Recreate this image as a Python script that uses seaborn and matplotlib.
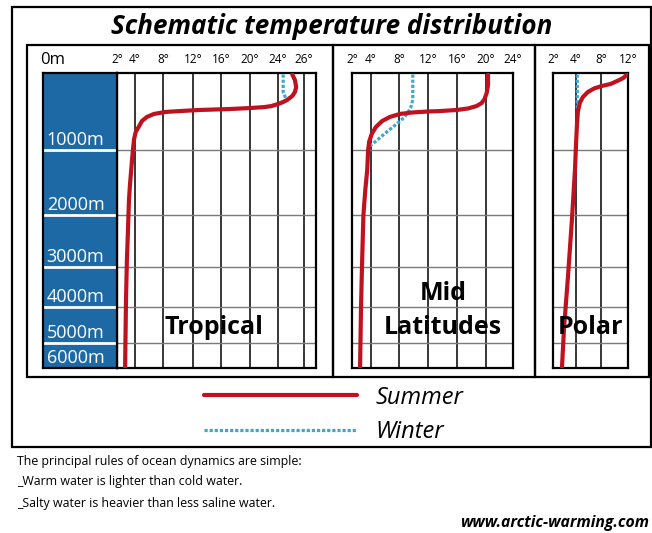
import numpy as np
import pandas as pd
import seaborn as sns
import matplotlib.pyplot as plt
from matplotlib.patches import Rectangle

depth_levels = [1000, 2000, 3000, 4000, 5000, 6000]

trop_ticks = [2, 4, 8, 12, 16, 20, 24, 26]
mid_ticks = [2, 4, 8, 12, 16, 20, 24]
polar_ticks = [2, 4, 8, 12]

trop_summer_t = [25.1, 25.3, 25.4, 25.3, 25.1, 24.7, 24.4, 24.0, 23.1, 22.1, 20.0, 17.2, 13.0, 10.3, 8.3,
                 6.7, 5.7, 5.0, 4.6, 4.1, 3.9, 3.8, 3.67, 3.44, 3.33, 3.22, 3.1, 3.0, 2.9]
trop_summer_d = [20, 91, 182, 247, 299, 350, 377, 403, 429, 442, 455, 468, 480, 494, 506,
                 532, 571, 623, 688, 766, 857, 961, 1154, 1538, 1770, 2288, 2865, 3825, 5980]
trop_winter_t = [24.4, 24.4, 24.6, 24.7, 24.0, 22.1]
trop_winter_d = [20, 250, 330, 350, 403, 442]

mid_summer_t = [20.3, 20.3, 20.1, 19.8, 19.4, 18.7, 17.5, 16.0, 13.7, 12.0, 9.8, 8.1, 6.7, 5.6, 4.7,
                4.1, 3.8, 3.7, 3.6, 3.4, 3.2, 3.05, 2.95, 2.85]
mid_summer_d = [20, 156, 260, 338, 390, 429, 461, 480, 494, 500, 513, 532, 571, 623, 701,
                792, 896, 1000, 1308, 1615, 2000, 3000, 4000, 5980]
mid_winter_t = [9.9, 9.9, 9.6, 8.8, 7.3, 5.9, 4.9, 3.9, 3.7]
mid_winter_d = [20, 350, 455, 571, 688, 792, 870, 948, 1000]

polar_summer_t = [11.85, 11.3, 10.4, 9.4, 8.1, 6.9, 5.9, 5.1, 4.6, 4.3, 4.15, 4.0, 3.91, 3.65, 3.3, 2.96, 2.78]
polar_summer_d = [20, 65, 104, 143, 169, 201, 247, 312, 390, 506, 675, 935, 1308, 2077, 3250, 4583, 5980]
polar_winter_t = [4.2, 4.2, 4.25, 4.3]
polar_winter_d = [20, 420, 470, 506]

# the drawing uses stretched, non-linear scales (pixel knots of the original)
depth_knots = [0, 1000, 2000, 3000, 4000, 5000, 6000]
depth_px = [0, 77, 142, 194, 234, 270, 295]
trop_knots = [2, 4, 8, 12, 16, 20, 24, 26, 27]
trop_px = [0, 18, 46, 76, 104, 133, 161, 187, 199]
mid_px = [0, 19, 47, 76, 105, 134, 161]
polar_px = [0, 23, 48, 75]

RED = '#c0111f'
BLUE = '#3fa6d2'
COLUMN = '#1d69a6'

sns.set_theme(style='white')
plt.rcParams['font.family'] = ['Open Sans', 'DejaVu Sans']
plt.rcParams['text.color'] = 'black'
plt.rcParams['xtick.color'] = 'black'
plt.rcParams['ytick.color'] = 'black'

W, H = 652, 533
fig = plt.figure(figsize=(W / 100, H / 100), dpi=100)


def box(l, t, r, b):
    return [l / W, 1 - b / H, (r - l) / W, (b - t) / H]


def fx(px):
    return px / W


def fy(py):
    return 1 - py / H


def depth_scale(ax):
    ax.set_yscale('function', functions=(lambda d: np.interp(d, depth_knots, depth_px),
                                         lambda p: np.interp(p, depth_px, depth_knots)))
    ax.set_ylim(6000, 0)


def draw_panel(ax, knots, px, ticks, st, sd, wt, wd):
    df = pd.concat([
        pd.DataFrame({'temp': wt, 'depth': wd, 'season': 'Winter'}),
        pd.DataFrame({'temp': st, 'depth': sd, 'season': 'Summer'}),
    ], ignore_index=True)
    ax.set_xscale('function', functions=(lambda t: np.interp(t, knots, px),
                                         lambda p: np.interp(p, px, knots)))
    sns.lineplot(data=df, x='temp', y='depth', hue='season', style='season', size='season',
                 hue_order=['Winter', 'Summer'],
                 palette={'Summer': RED, 'Winter': BLUE},
                 dashes={'Summer': '', 'Winter': (1, 0.6)},
                 sizes={'Summer': 3.0, 'Winter': 2.3},
                 sort=False, estimator=None, legend=False, ax=ax,
                 solid_capstyle='round', solid_joinstyle='round', zorder=3)
    ax.set_xlim(knots[0], knots[-1])
    depth_scale(ax)
    ax.set_xticks(ticks)
    ax.set_xticklabels([f'{t}°' for t in ticks])
    ax.xaxis.tick_top()
    ax.tick_params(axis='x', length=0, pad=5, labelsize=8.5)
    ax.set_yticks(depth_levels[:-1])
    ax.set_yticklabels([])
    ax.tick_params(axis='y', length=0)
    ax.set_axisbelow(True)
    ax.grid(True, axis='x', color='black', lw=1.1)
    ax.grid(True, axis='y', color='#7a7a7a', lw=1.0)
    ax.set_xlabel('')
    ax.set_ylabel('')
    for s in ax.spines.values():
        s.set_color('black')
        s.set_linewidth(1.6)


ax1 = fig.add_axes(box(117, 73, 316, 368))
ax2 = fig.add_axes(box(352, 73, 513, 368))
ax3 = fig.add_axes(box(553, 73, 628, 368))
draw_panel(ax1, trop_knots, trop_px, trop_ticks, trop_summer_t, trop_summer_d, trop_winter_t, trop_winter_d)
draw_panel(ax2, mid_ticks, mid_px, mid_ticks, mid_summer_t, mid_summer_d, mid_winter_t, mid_winter_d)
draw_panel(ax3, polar_ticks, polar_px, polar_ticks, polar_summer_t, polar_summer_d, polar_winter_t, polar_winter_d)

# blue depth column
axb = fig.add_axes(box(43, 73, 117, 368), facecolor=COLUMN)
depth_scale(axb)
axb.set_xlim(0, 1)
axb.set_xticks([])
axb.set_yticks([])
for s in axb.spines.values():
    s.set_color('black')
    s.set_linewidth(1.6)
axb.hlines(depth_levels[:-1], 0, 1, color='white', lw=2)
for d in depth_levels:
    axb.annotate(f'{d}m', (0.05, d), xytext=(0, 1), textcoords='offset points',
                 color='white', fontsize=13, va='bottom', ha='left')

# frames
fig.patches.append(Rectangle((fx(12), fy(447)), (651 - 12) / W, (447 - 7) / H, transform=fig.transFigure,
                             fill=False, ec='black', lw=1.6))
for l, r in [(27, 333), (333, 535), (535, 649)]:
    fig.patches.append(Rectangle((fx(l), fy(377)), (r - l) / W, (377 - 45) / H, transform=fig.transFigure,
                                 fill=False, ec='black', lw=1.6))

fig.text(fx(332), fy(27), 'Schematic temperature distribution', ha='center', va='center',
         fontsize=18.7, fontweight='bold', fontstyle='italic')
fig.text(fx(40), fy(60), '0m', ha='left', va='center', fontsize=12)

fig.text(fx(214), fy(328), 'Tropical', ha='center', va='center', fontsize=18, fontweight='bold', zorder=5)
fig.text(fx(443), fy(294), 'Mid', ha='center', va='center', fontsize=18, fontweight='bold', zorder=5)
fig.text(fx(443), fy(328), 'Latitudes', ha='center', va='center', fontsize=18, fontweight='bold', zorder=5)
fig.text(fx(591), fy(328), 'Polar', ha='center', va='center', fontsize=18, fontweight='bold', zorder=5)

# legend
summer_line = [ln for ln in ax1.get_lines() if ln.get_color() == RED][0]
winter_line = [ln for ln in ax1.get_lines() if ln.get_color() == BLUE][0]
fig.legend([summer_line, winter_line], ['Summer', 'Winter'], loc='center left',
           bbox_to_anchor=(fx(204), fy(415)), frameon=False, borderpad=0, borderaxespad=0,
           handlelength=6.5, handletextpad=0.75, labelspacing=0.45,
           prop={'size': 17, 'style': 'italic'})

fig.text(fx(17), fy(462), 'The principal rules of ocean dynamics are simple:', fontsize=8.9, va='center')
fig.text(fx(17), fy(482), '_Warm water is lighter than cold water.', fontsize=8.9, va='center')
fig.text(fx(17), fy(503), '_Salty water is heavier than less saline water.', fontsize=8.9, va='center')
fig.text(fx(649), fy(523), 'www.arctic-warming.com', fontsize=11.3, fontweight='bold', fontstyle='italic',
         ha='right', va='center')

fig.savefig('out.png', dpi=100)
